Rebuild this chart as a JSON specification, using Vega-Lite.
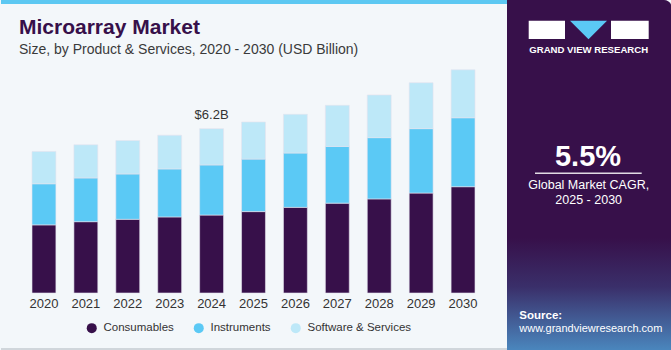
{
  "$schema": "https://vega.github.io/schema/vega-lite/v6.json",
  "width": 461,
  "height": 228,
  "padding": 0,
  "background": "#f3f7fa",
  "config": {"font": "Liberation Sans", "view": {"stroke": null}},
  "title": {
    "text": "Microarray Market",
    "subtitle": "Size, by Product & Services, 2020 - 2030 (USD Billion)",
    "anchor": "start",
    "frame": "group",
    "dx": -4,
    "offset": -57,
    "fontSize": 21,
    "fontWeight": "bold",
    "color": "#37104a",
    "subtitleFontSize": 14,
    "subtitleColor": "#3a3a3a",
    "subtitlePadding": 5.5
  },
  "layer": [
    {
      "data": {"values": [{}]},
      "mark": {"type": "rect", "cornerRadiusTopRight": 8, "fill": {"gradient": "linear", "x1": 0, "y1": 0, "x2": 0, "y2": 1, "stops": [{"offset": 0, "color": "#37104a"}, {"offset": 0.68, "color": "#37104a"}, {"offset": 0.82, "color": "#3a2f6a"}, {"offset": 1, "color": "#4a86bd"}]}},
      "encoding": {"x": {"value": 484}, "x2": {"value": 649}, "y": {"value": -65}, "y2": {"value": 285}}
    },
    {
      "data": {"values": [{}]},
      "mark": {"type": "rect", "color": "#5cc8f2"},
      "encoding": {"x": {"value": -22}, "x2": {"value": 484}, "y": {"value": -65}, "y2": {"value": -61}}
    },
    {
      "data": {"values": [{}]},
      "mark": {"type": "rule", "color": "#c5cbd1", "strokeWidth": 1.5},
      "encoding": {"x": {"value": -22}, "x2": {"value": 484}, "y": {"value": 284}}
    },
    {
      "data": {"values": [
        {"year": "2020", "product": "Consumables", "value": 2.57},
        {"year": "2020", "product": "Instruments", "value": 1.55},
        {"year": "2020", "product": "Software & Services", "value": 1.22},
        {"year": "2021", "product": "Consumables", "value": 2.69},
        {"year": "2021", "product": "Instruments", "value": 1.65},
        {"year": "2021", "product": "Software & Services", "value": 1.25},
        {"year": "2022", "product": "Consumables", "value": 2.78},
        {"year": "2022", "product": "Instruments", "value": 1.71},
        {"year": "2022", "product": "Software & Services", "value": 1.26},
        {"year": "2023", "product": "Consumables", "value": 2.87},
        {"year": "2023", "product": "Instruments", "value": 1.81},
        {"year": "2023", "product": "Software & Services", "value": 1.27},
        {"year": "2024", "product": "Consumables", "value": 2.94},
        {"year": "2024", "product": "Instruments", "value": 1.89},
        {"year": "2024", "product": "Software & Services", "value": 1.37},
        {"year": "2025", "product": "Consumables", "value": 3.07},
        {"year": "2025", "product": "Instruments", "value": 1.98},
        {"year": "2025", "product": "Software & Services", "value": 1.40},
        {"year": "2026", "product": "Consumables", "value": 3.23},
        {"year": "2026", "product": "Instruments", "value": 2.05},
        {"year": "2026", "product": "Software & Services", "value": 1.46},
        {"year": "2027", "product": "Consumables", "value": 3.39},
        {"year": "2027", "product": "Instruments", "value": 2.14},
        {"year": "2027", "product": "Software & Services", "value": 1.55},
        {"year": "2028", "product": "Consumables", "value": 3.55},
        {"year": "2028", "product": "Instruments", "value": 2.31},
        {"year": "2028", "product": "Software & Services", "value": 1.61},
        {"year": "2029", "product": "Consumables", "value": 3.77},
        {"year": "2029", "product": "Instruments", "value": 2.43},
        {"year": "2029", "product": "Software & Services", "value": 1.73},
        {"year": "2030", "product": "Consumables", "value": 4.01},
        {"year": "2030", "product": "Instruments", "value": 2.60},
        {"year": "2030", "product": "Software & Services", "value": 1.81}
      ]},
      "mark": {"type": "bar", "stroke": "#e4e2ee", "strokeWidth": 0.6},
      "encoding": {
        "x": {"field": "year", "type": "ordinal", "scale": {"paddingInner": 0.43, "paddingOuter": 0.215},
              "axis": {"title": null, "labelAngle": 0, "domain": false, "ticks": false, "labelPadding": 4, "labelFontSize": 13, "labelColor": "#333333"}},
        "y": {"field": "value", "type": "quantitative", "aggregate": "sum", "stack": "zero", "scale": {"domain": [0, 8.6], "nice": false}, "axis": null},
        "order": {"field": "product", "type": "nominal", "sort": "ascending"},
        "color": {"field": "product", "type": "nominal",
                  "scale": {"domain": ["Consumables", "Instruments", "Software & Services"], "range": ["#37104a", "#5bc9f5", "#bde8f8"]},
                  "legend": {"orient": "none", "legendX": 63, "legendY": 257, "direction": "horizontal", "title": null,
                             "symbolType": "circle", "symbolSize": 100, "labelFontSize": 11.5, "labelColor": "#333333",
                             "columnPadding": 19, "labelOffset": 6, "symbolStrokeWidth": 0}}
      }
    },
    {
      "data": {"values": [{"year": "2024", "total": 6.2, "label": "$6.2B"}]},
      "mark": {"type": "text", "fontSize": 13, "color": "#333333", "dy": -10, "baseline": "alphabetic"},
      "encoding": {"x": {"field": "year", "type": "ordinal"}, "y": {"field": "total", "type": "quantitative"}, "text": {"field": "label"}}
    },
    {
      "data": {"values": [{}]},
      "mark": {"type": "rect", "color": "#ffffff"},
      "encoding": {"x": {"value": 505.7}, "x2": {"value": 542}, "y": {"value": -44.3}, "y2": {"value": -26}}
    },
    {
      "data": {"values": [{}]},
      "mark": {"type": "rect", "color": "#ffffff"},
      "encoding": {"x": {"value": 588}, "x2": {"value": 625.7}, "y": {"value": -44.3}, "y2": {"value": -26}}
    },
    {
      "data": {"values": [{}]},
      "mark": {"type": "point", "shape": "M-1,-0.5L1,-0.5L0,0.5Z", "size": 1369, "filled": true, "color": "#5bc9f5", "opacity": 1},
      "encoding": {"x": {"value": 565.5}, "y": {"value": -35}}
    },
    {
      "data": {"values": [{}]},
      "mark": {"type": "text", "text": "GRAND VIEW RESEARCH", "fontSize": 9.6, "fontWeight": "bold", "color": "#ffffff", "align": "center", "baseline": "alphabetic"},
      "encoding": {"x": {"value": 565.7}, "y": {"value": -12.3}}
    },
    {
      "data": {"values": [{}]},
      "mark": {"type": "text", "text": "5.5%", "fontSize": 29, "fontWeight": "bold", "color": "#ffffff", "align": "center", "baseline": "alphabetic"},
      "encoding": {"x": {"value": 565}, "y": {"value": 100.7}}
    },
    {
      "data": {"values": [{}]},
      "mark": {"type": "rule", "color": "#ffffff", "strokeWidth": 1.5, "opacity": 0.85},
      "encoding": {"x": {"value": 512}, "x2": {"value": 618.7}, "y": {"value": 108.3}}
    },
    {
      "data": {"values": [{}]},
      "mark": {"type": "text", "text": "Global Market CAGR,", "fontSize": 12.5, "color": "#ffffff", "align": "center", "baseline": "alphabetic"},
      "encoding": {"x": {"value": 565.7}, "y": {"value": 124.3}}
    },
    {
      "data": {"values": [{}]},
      "mark": {"type": "text", "text": "2025 - 2030", "fontSize": 12.5, "color": "#ffffff", "align": "center", "baseline": "alphabetic"},
      "encoding": {"x": {"value": 565.7}, "y": {"value": 139}}
    },
    {
      "data": {"values": [{}]},
      "mark": {"type": "text", "text": "Source:", "fontSize": 11.5, "fontWeight": "bold", "color": "#ffffff", "align": "left", "baseline": "alphabetic"},
      "encoding": {"x": {"value": 496.3}, "y": {"value": 254}}
    },
    {
      "data": {"values": [{}]},
      "mark": {"type": "text", "text": "www.grandviewresearch.com", "fontSize": 11, "color": "#ffffff", "align": "left", "baseline": "alphabetic"},
      "encoding": {"x": {"value": 496.3}, "y": {"value": 267}}
    }
  ]
}
